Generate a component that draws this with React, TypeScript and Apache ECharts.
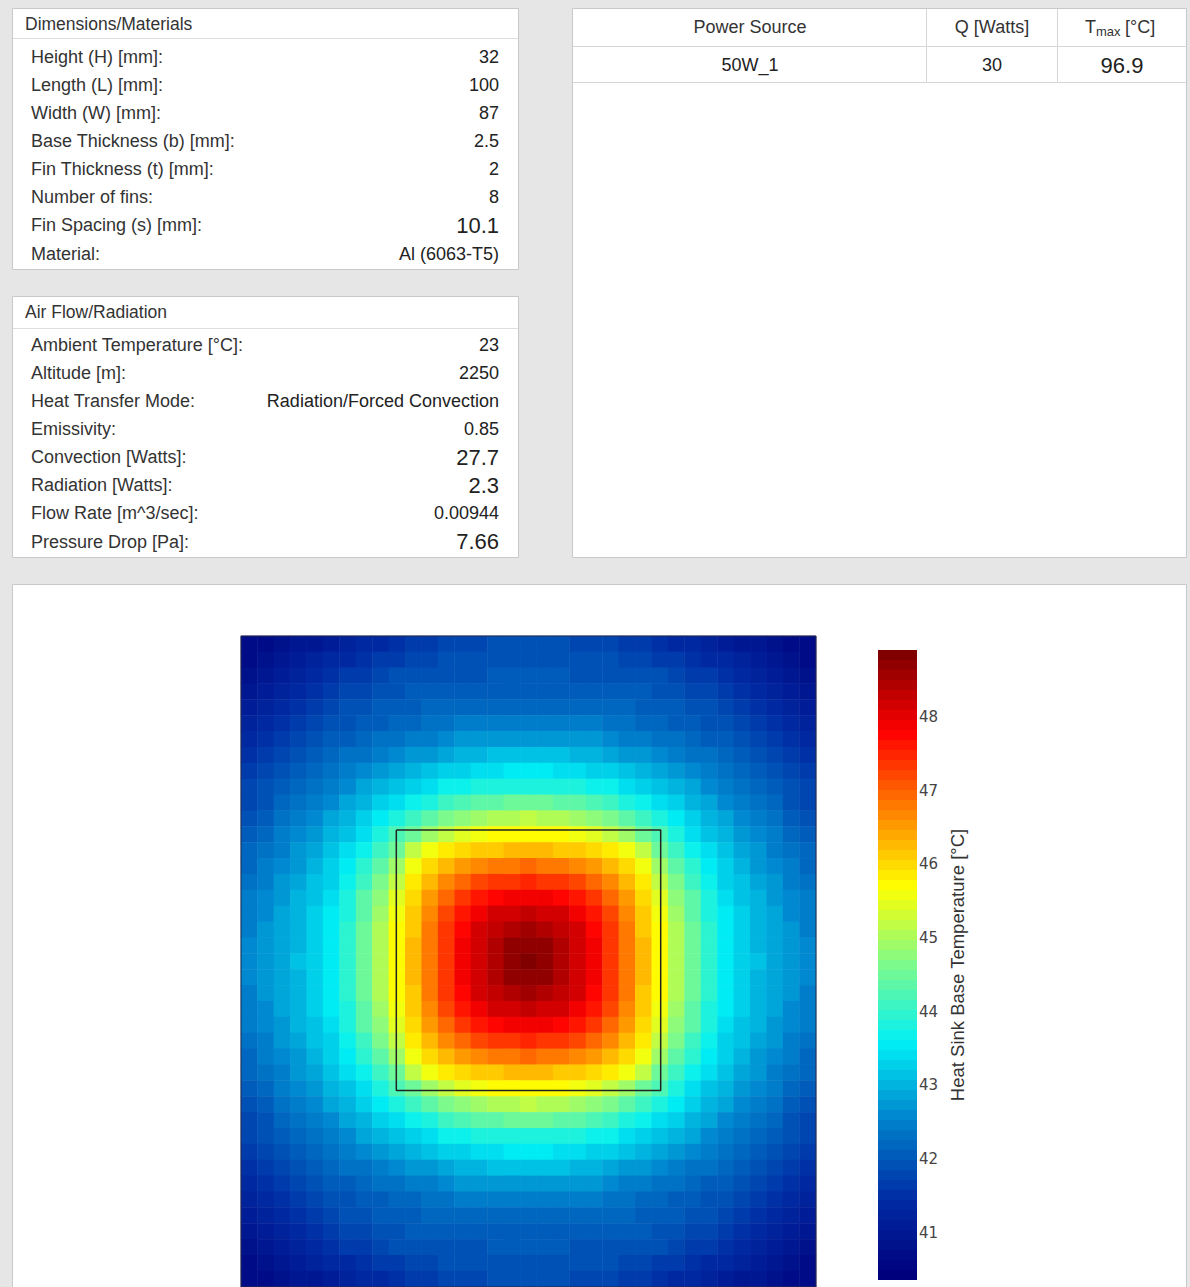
import React, { useEffect, useRef } from "react";
import * as echarts from "echarts";

// ---------- table data ----------
const dimTitle = "Dimensions/Materials";
const dimLabels = [
  "Height (H) [mm]:",
  "Length (L) [mm]:",
  "Width (W) [mm]:",
  "Base Thickness (b) [mm]:",
  "Fin Thickness (t) [mm]:",
  "Number of fins:",
  "Fin Spacing (s) [mm]:",
  "Material:",
];
const dimValues = ["32", "100", "87", "2.5", "2", "8", "10.1", "Al (6063-T5)"];
const dimBig = [false, false, false, false, false, false, true, false];

const airTitle = "Air Flow/Radiation";
const airLabels = [
  "Ambient Temperature [°C]:",
  "Altitude [m]:",
  "Heat Transfer Mode:",
  "Emissivity:",
  "Convection [Watts]:",
  "Radiation [Watts]:",
  "Flow Rate [m^3/sec]:",
  "Pressure Drop [Pa]:",
];
const airValues = ["23", "2250", "Radiation/Forced Convection", "0.85", "27.7", "2.3", "0.00944", "7.66"];
const airBig = [false, false, false, false, true, true, false, true];

const powerHeaders = ["Power Source", "Q [Watts]"];
const tmaxHeader = ["T", "max", " [°C]"];
const powerRow = ["50W_1", "30", "96.9"];

// ---------- heat sink geometry (mm) ----------
const plateWidthMm = 87;
const plateLengthMm = 100;
const sourceXmm = [23.5, 63.5];
const sourceYmm = [29.8, 69.8];

// ---------- base temperature field, 35 columns x 41 rows, top row first (°C) ----------
const tempRows: number[][] = [
  [40.64,40.73,40.82,40.92,41.02,41.13,41.24,41.33,41.43,41.52,41.60,41.67,41.73,41.78,41.82,41.86,41.88,41.88,41.88,41.86,41.82,41.78,41.73,41.67,41.60,41.52,41.43,41.33,41.24,41.13,41.02,40.92,40.82,40.73,40.64],
  [40.76,40.86,40.97,41.08,41.20,41.31,41.42,41.52,41.63,41.71,41.80,41.84,41.87,41.89,41.91,41.92,41.93,41.93,41.93,41.92,41.91,41.89,41.87,41.84,41.80,41.71,41.63,41.52,41.42,41.31,41.20,41.08,40.97,40.86,40.76],
  [40.87,40.99,41.11,41.24,41.37,41.49,41.60,41.71,41.81,41.87,41.90,41.93,41.95,41.97,41.98,41.99,42.00,42.00,42.00,41.99,41.98,41.97,41.95,41.93,41.90,41.87,41.81,41.71,41.60,41.49,41.37,41.24,41.11,40.99,40.87],
  [40.99,41.14,41.27,41.40,41.53,41.65,41.76,41.85,41.91,41.95,41.99,42.03,42.06,42.07,42.08,42.09,42.10,42.10,42.10,42.09,42.08,42.07,42.06,42.03,41.99,41.95,41.91,41.85,41.76,41.65,41.53,41.40,41.27,41.14,40.99],
  [41.14,41.28,41.42,41.55,41.68,41.78,41.87,41.94,42.00,42.05,42.10,42.14,42.18,42.20,42.22,42.23,42.24,42.25,42.24,42.23,42.22,42.20,42.18,42.14,42.10,42.05,42.00,41.94,41.87,41.78,41.68,41.55,41.42,41.28,41.14],
  [41.23,41.38,41.52,41.65,41.78,41.87,41.96,42.04,42.12,42.18,42.25,42.30,42.36,42.43,42.46,42.48,42.49,42.50,42.49,42.48,42.46,42.43,42.36,42.30,42.25,42.18,42.12,42.04,41.96,41.87,41.78,41.65,41.52,41.38,41.23],
  [41.41,41.56,41.68,41.78,41.89,41.99,42.09,42.19,42.29,42.36,42.45,42.53,42.60,42.67,42.74,42.78,42.79,42.80,42.79,42.78,42.74,42.67,42.60,42.53,42.45,42.36,42.29,42.19,42.09,41.99,41.89,41.78,41.68,41.56,41.41],
  [41.52,41.67,41.79,41.91,42.00,42.14,42.26,42.37,42.48,42.59,42.69,42.80,42.90,42.99,43.06,43.11,43.14,43.15,43.14,43.11,43.06,42.99,42.90,42.80,42.69,42.59,42.48,42.37,42.26,42.14,42.00,41.91,41.79,41.67,41.52],
  [41.65,41.78,41.91,42.03,42.17,42.31,42.46,42.58,42.71,42.85,42.99,43.11,43.23,43.33,43.42,43.46,43.49,43.50,43.49,43.46,43.42,43.33,43.23,43.11,42.99,42.85,42.71,42.58,42.46,42.31,42.17,42.03,41.91,41.78,41.65],
  [41.76,41.89,42.03,42.17,42.33,42.49,42.66,42.82,42.97,43.13,43.29,43.43,43.65,43.73,43.79,43.81,43.85,43.85,43.85,43.81,43.79,43.73,43.65,43.43,43.29,43.13,42.97,42.82,42.66,42.49,42.33,42.17,42.03,41.89,41.76],
  [41.84,41.98,42.13,42.29,42.47,42.65,42.85,43.06,43.25,43.43,43.69,43.83,44.05,44.22,44.34,44.41,44.45,44.45,44.45,44.41,44.34,44.22,44.05,43.83,43.69,43.43,43.25,43.06,42.85,42.65,42.47,42.29,42.13,41.98,41.84],
  [41.97,42.12,42.28,42.45,42.63,42.82,43.03,43.27,43.57,43.85,44.13,44.40,44.64,44.83,44.96,45.05,45.10,45.12,45.10,45.05,44.96,44.83,44.64,44.40,44.13,43.85,43.57,43.27,43.03,42.82,42.63,42.45,42.28,42.12,41.97],
  [42.07,42.23,42.40,42.58,42.78,42.98,43.20,43.47,43.85,44.19,44.54,44.87,45.16,45.39,45.56,45.67,45.72,45.73,45.72,45.67,45.56,45.39,45.16,44.87,44.54,44.19,43.85,43.47,43.20,42.98,42.78,42.58,42.40,42.23,42.07],
  [42.17,42.33,42.51,42.69,42.90,43.12,43.37,43.75,44.13,44.54,45.21,45.58,45.85,46.02,46.13,46.19,46.22,46.28,46.22,46.19,46.13,46.02,45.85,45.58,45.21,44.54,44.13,43.75,43.37,43.12,42.90,42.69,42.51,42.33,42.17],
  [42.24,42.43,42.61,42.80,43.01,43.24,43.52,43.93,44.40,44.87,45.58,45.95,46.23,46.50,46.68,46.78,46.81,46.90,46.81,46.78,46.68,46.50,46.23,45.95,45.58,44.87,44.40,43.93,43.52,43.24,43.01,42.80,42.61,42.43,42.24],
  [42.33,42.51,42.69,42.88,43.10,43.34,43.70,44.14,44.64,45.16,45.85,46.23,46.64,46.97,47.19,47.32,47.37,47.46,47.37,47.32,47.19,46.97,46.64,46.23,45.85,45.16,44.64,44.14,43.70,43.34,43.10,42.88,42.69,42.51,42.33],
  [42.40,42.58,42.76,42.95,43.17,43.44,43.80,44.30,44.83,45.39,46.02,46.50,46.97,47.36,47.62,47.78,47.85,47.92,47.85,47.78,47.62,47.36,46.97,46.50,46.02,45.39,44.83,44.30,43.80,43.44,43.17,42.95,42.76,42.58,42.40],
  [42.46,42.64,42.82,43.01,43.23,43.51,43.88,44.40,44.96,45.56,46.13,46.68,47.19,47.62,47.93,48.11,48.19,48.25,48.19,48.11,47.93,47.62,47.19,46.68,46.13,45.56,44.96,44.40,43.88,43.51,43.23,43.01,42.82,42.64,42.46],
  [42.51,42.68,42.86,43.05,43.28,43.52,43.92,44.47,45.05,45.67,46.19,46.78,47.32,47.78,48.11,48.34,48.48,48.52,48.48,48.34,48.11,47.78,47.32,46.78,46.19,45.67,45.05,44.47,43.92,43.52,43.28,43.05,42.86,42.68,42.51],
  [42.55,42.72,42.88,43.07,43.28,43.55,43.99,44.51,45.09,45.72,46.22,46.81,47.37,47.85,48.19,48.48,48.66,48.74,48.66,48.48,48.19,47.85,47.37,46.81,46.22,45.72,45.09,44.51,43.99,43.55,43.28,43.07,42.88,42.72,42.55],
  [42.57,42.74,42.90,43.08,43.28,43.56,44.00,44.55,45.10,45.73,46.22,46.82,47.38,47.86,48.20,48.50,48.72,48.85,48.72,48.50,48.20,47.86,47.38,46.82,46.22,45.73,45.10,44.55,44.00,43.56,43.28,43.08,42.90,42.74,42.57],
  [42.55,42.72,42.88,43.07,43.28,43.55,43.99,44.51,45.09,45.72,46.22,46.81,47.37,47.85,48.19,48.48,48.66,48.74,48.66,48.48,48.19,47.85,47.37,46.81,46.22,45.72,45.09,44.51,43.99,43.55,43.28,43.07,42.88,42.72,42.55],
  [42.51,42.68,42.86,43.05,43.28,43.52,43.92,44.47,45.05,45.67,46.19,46.78,47.32,47.78,48.11,48.34,48.48,48.52,48.48,48.34,48.11,47.78,47.32,46.78,46.19,45.67,45.05,44.47,43.92,43.52,43.28,43.05,42.86,42.68,42.51],
  [42.46,42.64,42.82,43.01,43.23,43.51,43.88,44.40,44.96,45.56,46.13,46.68,47.19,47.62,47.93,48.11,48.19,48.25,48.19,48.11,47.93,47.62,47.19,46.68,46.13,45.56,44.96,44.40,43.88,43.51,43.23,43.01,42.82,42.64,42.46],
  [42.40,42.58,42.76,42.95,43.17,43.44,43.80,44.30,44.83,45.39,46.02,46.50,46.97,47.36,47.62,47.78,47.85,47.92,47.85,47.78,47.62,47.36,46.97,46.50,46.02,45.39,44.83,44.30,43.80,43.44,43.17,42.95,42.76,42.58,42.40],
  [42.33,42.51,42.69,42.88,43.10,43.34,43.70,44.14,44.64,45.16,45.85,46.23,46.64,46.97,47.19,47.32,47.37,47.46,47.37,47.32,47.19,46.97,46.64,46.23,45.85,45.16,44.64,44.14,43.70,43.34,43.10,42.88,42.69,42.51,42.33],
  [42.24,42.43,42.61,42.80,43.01,43.24,43.52,43.93,44.40,44.87,45.58,45.95,46.23,46.50,46.68,46.78,46.81,46.90,46.81,46.78,46.68,46.50,46.23,45.95,45.58,44.87,44.40,43.93,43.52,43.24,43.01,42.80,42.61,42.43,42.24],
  [42.17,42.33,42.51,42.69,42.90,43.12,43.37,43.75,44.13,44.54,45.21,45.58,45.85,46.02,46.13,46.19,46.22,46.28,46.22,46.19,46.13,46.02,45.85,45.58,45.21,44.54,44.13,43.75,43.37,43.12,42.90,42.69,42.51,42.33,42.17],
  [42.07,42.23,42.40,42.58,42.78,42.98,43.20,43.47,43.85,44.19,44.54,44.87,45.16,45.39,45.56,45.67,45.72,45.73,45.72,45.67,45.56,45.39,45.16,44.87,44.54,44.19,43.85,43.47,43.20,42.98,42.78,42.58,42.40,42.23,42.07],
  [41.97,42.12,42.28,42.45,42.63,42.82,43.03,43.27,43.57,43.85,44.13,44.40,44.64,44.83,44.96,45.05,45.10,45.12,45.10,45.05,44.96,44.83,44.64,44.40,44.13,43.85,43.57,43.27,43.03,42.82,42.63,42.45,42.28,42.12,41.97],
  [41.84,41.98,42.13,42.29,42.47,42.65,42.85,43.06,43.25,43.43,43.69,43.83,44.05,44.22,44.34,44.41,44.45,44.45,44.45,44.41,44.34,44.22,44.05,43.83,43.69,43.43,43.25,43.06,42.85,42.65,42.47,42.29,42.13,41.98,41.84],
  [41.76,41.89,42.03,42.17,42.33,42.49,42.66,42.82,42.97,43.13,43.29,43.43,43.65,43.73,43.79,43.81,43.85,43.85,43.85,43.81,43.79,43.73,43.65,43.43,43.29,43.13,42.97,42.82,42.66,42.49,42.33,42.17,42.03,41.89,41.76],
  [41.65,41.78,41.91,42.03,42.17,42.31,42.46,42.58,42.71,42.85,42.99,43.11,43.23,43.33,43.42,43.46,43.49,43.50,43.49,43.46,43.42,43.33,43.23,43.11,42.99,42.85,42.71,42.58,42.46,42.31,42.17,42.03,41.91,41.78,41.65],
  [41.52,41.67,41.79,41.91,42.00,42.14,42.26,42.37,42.48,42.59,42.69,42.80,42.90,42.99,43.06,43.11,43.14,43.15,43.14,43.11,43.06,42.99,42.90,42.80,42.69,42.59,42.48,42.37,42.26,42.14,42.00,41.91,41.79,41.67,41.52],
  [41.41,41.56,41.68,41.78,41.89,41.99,42.09,42.19,42.29,42.36,42.45,42.53,42.60,42.67,42.74,42.78,42.79,42.80,42.79,42.78,42.74,42.67,42.60,42.53,42.45,42.36,42.29,42.19,42.09,41.99,41.89,41.78,41.68,41.56,41.41],
  [41.23,41.38,41.52,41.65,41.78,41.87,41.96,42.04,42.12,42.18,42.25,42.30,42.36,42.43,42.46,42.48,42.49,42.50,42.49,42.48,42.46,42.43,42.36,42.30,42.25,42.18,42.12,42.04,41.96,41.87,41.78,41.65,41.52,41.38,41.23],
  [41.14,41.28,41.42,41.55,41.68,41.78,41.87,41.94,42.00,42.05,42.10,42.14,42.18,42.20,42.22,42.23,42.24,42.25,42.24,42.23,42.22,42.20,42.18,42.14,42.10,42.05,42.00,41.94,41.87,41.78,41.68,41.55,41.42,41.28,41.14],
  [40.99,41.14,41.27,41.40,41.53,41.65,41.76,41.85,41.91,41.95,41.99,42.03,42.06,42.07,42.08,42.09,42.10,42.10,42.10,42.09,42.08,42.07,42.06,42.03,41.99,41.95,41.91,41.85,41.76,41.65,41.53,41.40,41.27,41.14,40.99],
  [40.87,40.99,41.11,41.24,41.37,41.49,41.60,41.71,41.81,41.87,41.90,41.93,41.95,41.97,41.98,41.99,42.00,42.00,42.00,41.99,41.98,41.97,41.95,41.93,41.90,41.87,41.81,41.71,41.60,41.49,41.37,41.24,41.11,40.99,40.87],
  [40.76,40.86,40.97,41.08,41.20,41.31,41.42,41.52,41.63,41.71,41.80,41.84,41.87,41.89,41.91,41.92,41.93,41.93,41.93,41.92,41.91,41.89,41.87,41.84,41.80,41.71,41.63,41.52,41.42,41.31,41.20,41.08,40.97,40.86,40.76],
  [40.64,40.73,40.82,40.92,41.02,41.13,41.24,41.33,41.43,41.52,41.60,41.67,41.73,41.78,41.82,41.86,41.88,41.88,41.88,41.86,41.82,41.78,41.73,41.67,41.60,41.52,41.43,41.33,41.24,41.13,41.02,40.92,40.82,40.73,40.64],
];

// ---------- colour bar ----------
const tempMin = 40.36;
const tempMax = 48.91;
const colorbarTicks = [41, 42, 43, 44, 45, 46, 47, 48];
const colorbarTitle = "Heat Sink Base Temperature [°C]";
const colorbarBands = 63;
const jetColors = ["#00007d", "#002da5", "#0082cd", "#00f0f5", "#7dfa8c", "#ffff00", "#ff8000", "#ff0000", "#800000"];

const FONT = "Liberation Sans";
const TEXT = "#333333";

function txt(x: number, y: number, text: string, size: number, align: string, color = TEXT, family = FONT) {
  return {
    type: "text",
    x,
    y,
    silent: true,
    style: { text, fontSize: size, fontFamily: family, fill: color, align, verticalAlign: "middle" },
  };
}

function buildGraphics() {
  const g: any[] = [];
  const border = "#c9c9c9";
  // panel 1
  g.push({ type: "rect", shape: { x: 12.5, y: 8.5, width: 506, height: 261 }, style: { fill: "#fff", stroke: border, lineWidth: 1 } });
  g.push({ type: "line", shape: { x1: 13, y1: 38.5, x2: 518, y2: 38.5 }, style: { stroke: "#dedede", lineWidth: 1 } });
  g.push(txt(25, 24, dimTitle, 17.5, "left"));
  dimLabels.forEach((l, i) => {
    const y = 56.5 + i * 28.15;
    g.push(txt(31, y, l, 18, "left"));
    g.push(txt(499, y, dimValues[i], dimBig[i] ? 22 : 18, "right", "#222"));
  });
  // panel 2
  g.push({ type: "rect", shape: { x: 12.5, y: 296.5, width: 506, height: 261 }, style: { fill: "#fff", stroke: border, lineWidth: 1 } });
  g.push({ type: "line", shape: { x1: 13, y1: 328.5, x2: 518, y2: 328.5 }, style: { stroke: "#dedede", lineWidth: 1 } });
  g.push(txt(25, 312, airTitle, 17.5, "left"));
  airLabels.forEach((l, i) => {
    const y = 344.5 + i * 28.15;
    g.push(txt(31, y, l, 18, "left"));
    g.push(txt(499, y, airValues[i], airBig[i] ? 22 : 18, "right", "#222"));
  });
  // panel 3 (power source table)
  g.push({ type: "rect", shape: { x: 572.5, y: 8.5, width: 614, height: 549 }, style: { fill: "#fff", stroke: border, lineWidth: 1 } });
  g.push({ type: "line", shape: { x1: 573, y1: 46.5, x2: 1186, y2: 46.5 }, style: { stroke: "#d6d6d6", lineWidth: 1 } });
  g.push({ type: "line", shape: { x1: 573, y1: 82.5, x2: 1186, y2: 82.5 }, style: { stroke: "#d6d6d6", lineWidth: 1 } });
  g.push({ type: "line", shape: { x1: 926.5, y1: 9, x2: 926.5, y2: 82.5 }, style: { stroke: "#d6d6d6", lineWidth: 1 } });
  g.push({ type: "line", shape: { x1: 1057.5, y1: 9, x2: 1057.5, y2: 82.5 }, style: { stroke: "#d6d6d6", lineWidth: 1 } });
  g.push(txt(750, 27, powerHeaders[0], 18, "center"));
  g.push(txt(992, 27, powerHeaders[1], 18, "center"));
  g.push(txt(1085, 27, tmaxHeader[0], 18, "left"));
  g.push(txt(1096, 31, tmaxHeader[1], 13, "left"));
  g.push(txt(1120, 27, tmaxHeader[2], 18, "left"));
  g.push(txt(750, 65, powerRow[0], 18, "center", "#222"));
  g.push(txt(992, 65, powerRow[1], 18, "center", "#222"));
  g.push(txt(1122, 65, powerRow[2], 22, "center", "#222"));
  // bottom panel
  g.push({ type: "rect", shape: { x: 12.5, y: 584.5, width: 1174, height: 720 }, style: { fill: "#fff", stroke: border, lineWidth: 1 } });
  return g;
}

const heatData: number[][] = [];
tempRows.forEach((row, j) => row.forEach((v, i) => heatData.push([i, j, v])));
const xCats = tempRows[0].map((_, i) => String(i));
const yCats = tempRows.map((_, j) => String(j));

const sourceBox = [
  [sourceXmm[0], sourceYmm[0]],
  [sourceXmm[1], sourceYmm[0]],
  [sourceXmm[1], sourceYmm[1]],
  [sourceXmm[0], sourceYmm[1]],
  [sourceXmm[0], sourceYmm[0]],
];
const plateFrame = [
  [0, 0],
  [plateWidthMm, 0],
  [plateWidthMm, plateLengthMm],
  [0, plateLengthMm],
  [0, 0],
];

const PLOT = { left: 241, top: 636, width: 575, height: 661 };
const CBAR = { left: 878, top: 650, width: 39, height: 630 };

const option: any = {
  animation: false,
  backgroundColor: "#e6e6e6",
  textStyle: { fontFamily: FONT },
  graphic: buildGraphics(),
  grid: [
    { ...PLOT, containLabel: false },
    { ...PLOT, containLabel: false },
    { ...CBAR, containLabel: false },
  ],
  xAxis: [
    { type: "category", gridIndex: 0, data: xCats, show: false },
    { type: "value", gridIndex: 1, min: 0, max: plateWidthMm, show: false },
    { type: "value", gridIndex: 2, min: 0, max: 1, show: false },
  ],
  yAxis: [
    { type: "category", gridIndex: 0, data: yCats, inverse: true, show: false },
    { type: "value", gridIndex: 1, min: 0, max: plateLengthMm, inverse: true, show: false },
    {
      type: "value",
      gridIndex: 2,
      min: tempMin,
      max: tempMax,
      position: "right",
      axisLine: { show: false },
      axisTick: { show: false },
      splitLine: { show: false },
      axisLabel: {
        customValues: colorbarTicks,
        margin: 2,
        fontSize: 15,
        fontFamily: "DejaVu Sans",
        color: "#444",
      },
      name: colorbarTitle,
      nameLocation: "middle",
      nameRotate: 90,
      nameGap: 31,
      nameTextStyle: { fontSize: 18.5, fontFamily: FONT, color: TEXT },
    },
  ],
  visualMap: {
    type: "piecewise",
    seriesIndex: 0,
    min: tempMin,
    max: tempMax,
    splitNumber: colorbarBands,
    orient: "vertical",
    left: CBAR.left,
    top: CBAR.top,
    itemWidth: CBAR.width,
    itemHeight: CBAR.height / colorbarBands,
    itemGap: 0,
    itemSymbol: "rect",
    showLabel: false,
    padding: 0,
    selectedMode: false,
    hoverLink: false,
    inRange: { color: jetColors },
  },
  series: [
    {
      type: "heatmap",
      xAxisIndex: 0,
      yAxisIndex: 0,
      data: heatData,
      progressive: 0,
      emphasis: { disabled: true },
      silent: true,
    },
    {
      type: "line",
      xAxisIndex: 1,
      yAxisIndex: 1,
      data: sourceBox,
      symbol: "none",
      clip: false,
      silent: true,
      lineStyle: { color: "#222", width: 1.5 },
      z: 5,
    },
    {
      type: "line",
      xAxisIndex: 1,
      yAxisIndex: 1,
      data: plateFrame,
      symbol: "none",
      clip: false,
      silent: true,
      lineStyle: { color: "#2a2a44", width: 1 },
      z: 5,
    },
  ],
};

export default function App() {
  const ref = useRef<HTMLDivElement>(null);
  useEffect(() => {
    document.body.style.margin = "0";
    const chart = echarts.init(ref.current!, null, { renderer: "svg" });
    chart.setOption(option);
    return () => chart.dispose();
  }, []);
  return <div ref={ref} style={{ width: 1190, height: 1287 }} />;
}
